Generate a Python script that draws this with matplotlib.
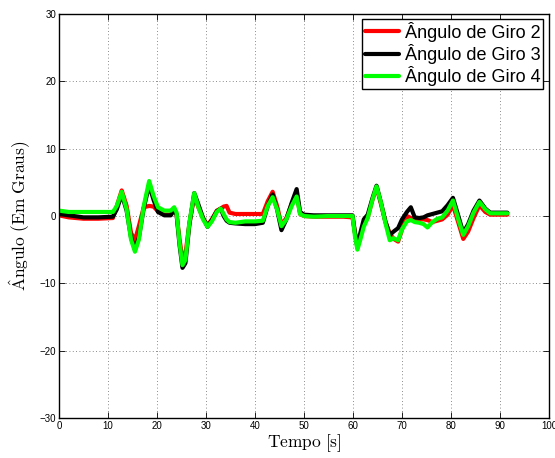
import matplotlib
matplotlib.use("Agg")
import matplotlib.pyplot as plt

# Time samples [s]
tempo = [0, 2, 5, 8, 11, 11.8, 12.8, 13.8, 14.7, 15.5, 16.3, 17.3, 18.4, 19.3, 20.2,
         21.5, 22.8, 23.5, 24.0, 24.6, 25.2, 25.8, 26.6, 27.6, 28.5, 29.4, 30.3, 31.2,
         32.2, 33.0, 33.6, 34.2, 34.8, 36, 38, 40, 41.6, 42.6, 43.6, 44.5, 45.4, 46.4,
         47.5, 48.5, 49.2, 50, 52, 55, 58, 59.9, 60.4, 60.9, 61.5, 62.2, 63.0, 64.0,
         64.8, 65.7, 66.6, 67.5, 68.3, 69.2, 70.0, 71.0, 71.8, 72.6, 73.5, 74.4, 75.2,
         76.2, 77.2, 78.2, 79.3, 80.4, 81.5, 82.5, 83.5, 84.6, 85.8, 87, 88, 90, 91.5]

# Angle per gyro [degrees]
giro2 = [0.1, -0.2, -0.4, -0.4, -0.3, 1.5, 3.8, 1.5, -2.5, -3.6, -1.5, 1.3, 1.5, 1.4, 0.7,
         0.2, 0.2, 1.0, 0.2, -3.5, -6.3, -5.7, -1.2, 3.0, 1.2, -0.3, -1.4, -0.5,
         0.8, 1.1, 1.4, 1.5, 0.5, 0.3, 0.3, 0.3, 0.3, 2.2, 3.6, 1.5, -1.3, -0.3,
         1.8, 3.3, 0.3, 0.0, -0.1, -0.1, -0.1, -0.2, -2.5, -4.5, -3.0, -1.2, -0.2, 2.5,
         4.3, 1.8, -0.8, -2.6, -3.4, -3.8, -2.0, 0.0, -0.3, -0.6, -0.5, -0.5, -0.6,
         -0.9, -0.7, -0.5, 0.2, 1.6, -1.0, -3.4, -2.3, -0.3, 1.6, 0.6, 0.2, 0.2, 0.2]

giro3 = [0.3, 0.1, -0.2, -0.2, -0.1, 1.0, 3.2, 0.8, -3.2, -5.0, -3.2, 1.2, 4.6, 2.4, 0.6,
         0.1, 0.1, 0.9, 0.2, -4.3, -7.7, -7.0, -1.3, 3.4, 1.6, -0.3, -1.6, -0.6,
         0.7, 1.1, 0.0, -0.7, -1.0, -1.1, -1.2, -1.2, -1.0, 1.5, 3.2, 1.0, -2.1, -0.5,
         2.0, 4.0, 0.6, 0.2, 0.1, 0.1, 0.1, 0.1, -2.5, -4.7, -2.5, -0.5, 0.2, 2.7,
         4.5, 2.0, -0.8, -2.8, -2.3, -1.8, -0.5, 0.6, 1.3, -0.2, -0.3, -0.2, 0.1,
         0.3, 0.5, 0.7, 1.6, 2.7, 0.0, -2.5, -1.2, 0.8, 2.3, 1.1, 0.5, 0.5, 0.5]

giro4 = [0.8, 0.6, 0.6, 0.6, 0.6, 1.5, 3.6, 1.0, -3.5, -5.3, -3.5, 1.5, 5.2, 3.0, 1.3,
         0.8, 0.8, 1.3, 0.5, -4.0, -7.3, -6.5, -1.0, 3.4, 1.2, -0.5, -1.6, -0.8,
         0.6, 1.1, 0.3, -0.5, -0.9, -1.0, -0.8, -0.8, -0.7, 1.5, 2.8, 1.0, -1.5, -0.5,
         1.5, 2.9, 0.3, 0.0, -0.1, 0.0, 0.0, 0.0, -3.0, -5.0, -3.5, -1.6, -0.3, 2.5,
         4.4, 2.0, -1.0, -3.6, -3.3, -3.6, -2.0, -0.8, -0.6, -0.9, -1.0, -1.2, -1.7,
         -0.9, -0.4, -0.2, 0.8, 2.3, -0.5, -2.8, -1.5, 0.5, 2.1, 1.0, 0.4, 0.4, 0.4]

series = [
    (giro2, "#ff0000", "Ângulo de Giro 2"),
    (giro3, "#000000", "Ângulo de Giro 3"),
    (giro4, "#00ff00", "Ângulo de Giro 4"),
]

plt.rcParams["mathtext.fontset"] = "cm"
plt.rcParams["font.family"] = ["Liberation Sans", "DejaVu Sans"]

fig = plt.figure(figsize=(5.55, 4.58), dpi=100)
ax = fig.add_axes([0.1063, 0.0873, 0.8829, 0.8821])

for vals, color, label in series:
    ax.plot(tempo, vals, color=color, lw=3.0, label=label,
            solid_joinstyle="round", solid_capstyle="round")

ax.set_xlim(0, 100)
ax.set_ylim(-30, 30)
ax.set_xticks(range(0, 101, 10))
ax.set_yticks(range(-30, 31, 10))
ax.set_yticklabels(["\u221230", "\u221220", "\u221210", "0", "10", "20", "30"])
ax.grid(True, linestyle=(0, (1, 3)), color="#666666", linewidth=0.6)
ax.tick_params(direction="in", length=4, width=0.6, top=True, right=True,
               labelsize=7, pad=2)
for s in ax.spines.values():
    s.set_linewidth(1.0)

ax.set_xlabel(r"$\mathrm{Tempo\ [s]}$", fontsize=12.5, labelpad=1)
ax.set_ylabel(r"$\hat{\mathrm{A}}\mathrm{ngulo\ (Em\ Graus)}$", fontsize=12.5, labelpad=5)

leg = ax.legend(loc="upper right", bbox_to_anchor=(0.9878, 0.9876), fontsize=13,
                frameon=True, fancybox=False, framealpha=1, edgecolor="black",
                handlelength=1.9, handletextpad=0.3, borderpad=0.15,
                labelspacing=0.12, borderaxespad=0)
leg.get_frame().set_linewidth(1.0)

fig.savefig("out.png", dpi=100)
